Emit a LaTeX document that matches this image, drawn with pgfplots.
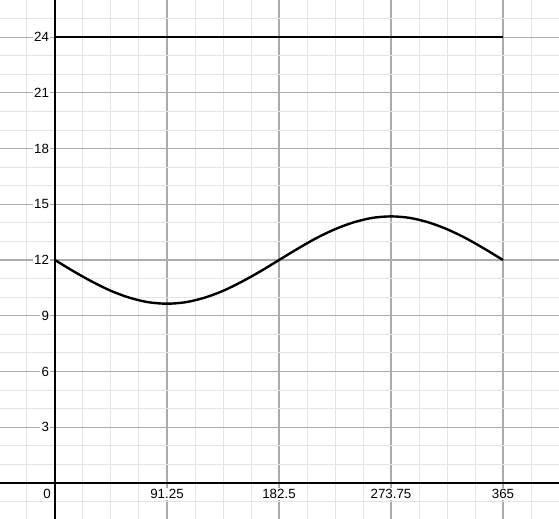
\documentclass[border=0pt]{standalone}
\usepackage{fontspec}
\setmainfont{Liberation Sans}
\usepackage{pgfplots}
\pgfplotsset{compat=1.18}
\definecolor{majgrid}{HTML}{ABABAB}
\definecolor{mingrid}{HTML}{E4E4E4}

\begin{document}
\begin{tikzpicture}
  \begin{axis}[
      set layers=standard,
      scale only axis,
      width=419.25pt, height=389.25pt,
      xmin=-44.8, xmax=410.6,
      ymin=-1.94, ymax=26.0,
      axis lines=middle,
      axis line style={-, black, line width=0.9pt},
      xtick={91.25,182.5,273.75,365},
      xticklabels={91.25,182.5,273.75,365},
      ytick={3,6,9,12,15,18,21,24},
      minor xtick={-22.8125,22.8125,45.625,68.4375,114.0625,136.875,159.6875,
                   205.3125,228.125,250.9375,296.5625,319.375,342.1875,387.8125,410.625},
      minor ytick={-1,1,2,4,5,7,8,10,11,13,14,16,17,19,20,22,23,25,26},
      extra x ticks={0},
      extra x tick labels={0},
      extra x tick style={grid=none, tick label style={xshift=-6pt}},
      grid=both,
      major grid style={majgrid, line width=0.9pt},
      minor grid style={mingrid, line width=0.75pt},
      major tick length=0pt, minor tick length=0pt,
      tick label style={font=\fontsize{10}{11}\selectfont, black,
                        fill=white, inner sep=1pt},
      /pgf/number format/assume math mode=true,
      xticklabel style={yshift=-3.8pt},
      yticklabel style={xshift=-3.3pt},
    ]
    \addplot[black, line width=1.8pt] coordinates {(0,24) (365,24)};
    \addplot[black, line width=1.8pt, smooth] coordinates {
      (0,12) (15.21,11.39) (30.42,10.83) (45.63,10.34) (60.83,9.97) (76.04,9.73)
      (91.25,9.65) (106.46,9.73) (121.67,9.97) (136.88,10.34) (152.08,10.83)
      (167.29,11.39) (182.5,12) (197.71,12.61) (212.92,13.18) (228.13,13.66)
      (243.33,14.03) (258.54,14.27) (273.75,14.35) (288.96,14.27) (304.17,14.03)
      (319.38,13.66) (334.58,13.18) (349.79,12.61) (365,12)
    };
  \end{axis}
  \pgfresetboundingbox
  \path[use as bounding box] (current axis.south west) rectangle (current axis.north east);
\end{tikzpicture}
\end{document}
